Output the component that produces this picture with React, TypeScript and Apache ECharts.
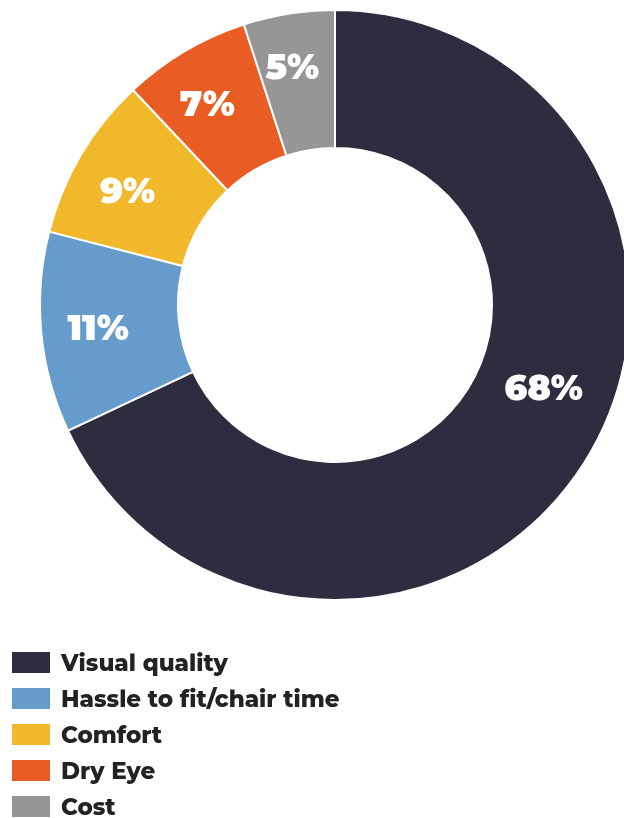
import React, { useEffect, useRef } from "react";
import * as echarts from "echarts";

const categories = ["Visual quality", "Hassle to fit/chair time", "Comfort", "Dry Eye", "Cost"];
const values = [68, 11, 9, 7, 5];
const colors = ["#2e2d40", "#669ccb", "#f1b82b", "#e95d25", "#969697"];

export default function App() {
  const ref = useRef<HTMLDivElement>(null);
  useEffect(() => {
    const chart = echarts.init(ref.current!, null, { renderer: "svg" });
    const font = "Montserrat, 'Open Sans', Lato, sans-serif";
    chart.setOption({
      animation: false,
      legend: {
        orient: "vertical",
        left: 10,
        top: 650,
        height: 200,
        padding: 0,
        itemWidth: 40,
        itemHeight: 23,
        itemGap: 11,
        icon: "rect",
        selectedMode: false,
        data: categories,
        textStyle: { fontFamily: font, fontWeight: 800, fontSize: 23, lineHeight: 23, color: "#222222", padding: [0, 0, 0, 5] },
      },
      series: [
        {
          type: "pie",
          center: [335, 305],
          radius: [157, 295],
          startAngle: 90,
          clockwise: true,
          silent: true,
          itemStyle: { borderColor: "#ffffff", borderWidth: 2 },
          label: { show: false },
          labelLine: { show: false },
          data: categories.map((name, i) => ({
            name,
            value: values[i],
            itemStyle: { color: colors[i] },
          })),
        },
        {
          type: "pie",
          center: [335, 305],
          radius: [181, 295],
          startAngle: 90,
          clockwise: true,
          silent: true,
          legendHoverLink: false,
          itemStyle: { color: "rgba(0,0,0,0)", borderWidth: 0 },
          label: {
            show: true,
            position: "inside",
            formatter: "{c}%",
            color: "#ffffff",
            fontFamily: font,
            fontWeight: 900,
            fontSize: 35,
          },
          labelLine: { show: false },
          data: categories.map((name, i) => ({
            name: name + " ",
            value: values[i],
            label: i === 0 ? { offset: [5, -47] } : i === 1 ? { offset: [3, 0] } : i === 2 ? { offset: [0, 8] } : i === 3 ? { offset: [-5, 6] } : { offset: [-5, 0] },
          })),
        },
      ],
    });
    return () => chart.dispose();
  }, []);
  return <div ref={ref} style={{ position: "fixed", left: 0, top: 0, width: 624, height: 818 }} />;
}
